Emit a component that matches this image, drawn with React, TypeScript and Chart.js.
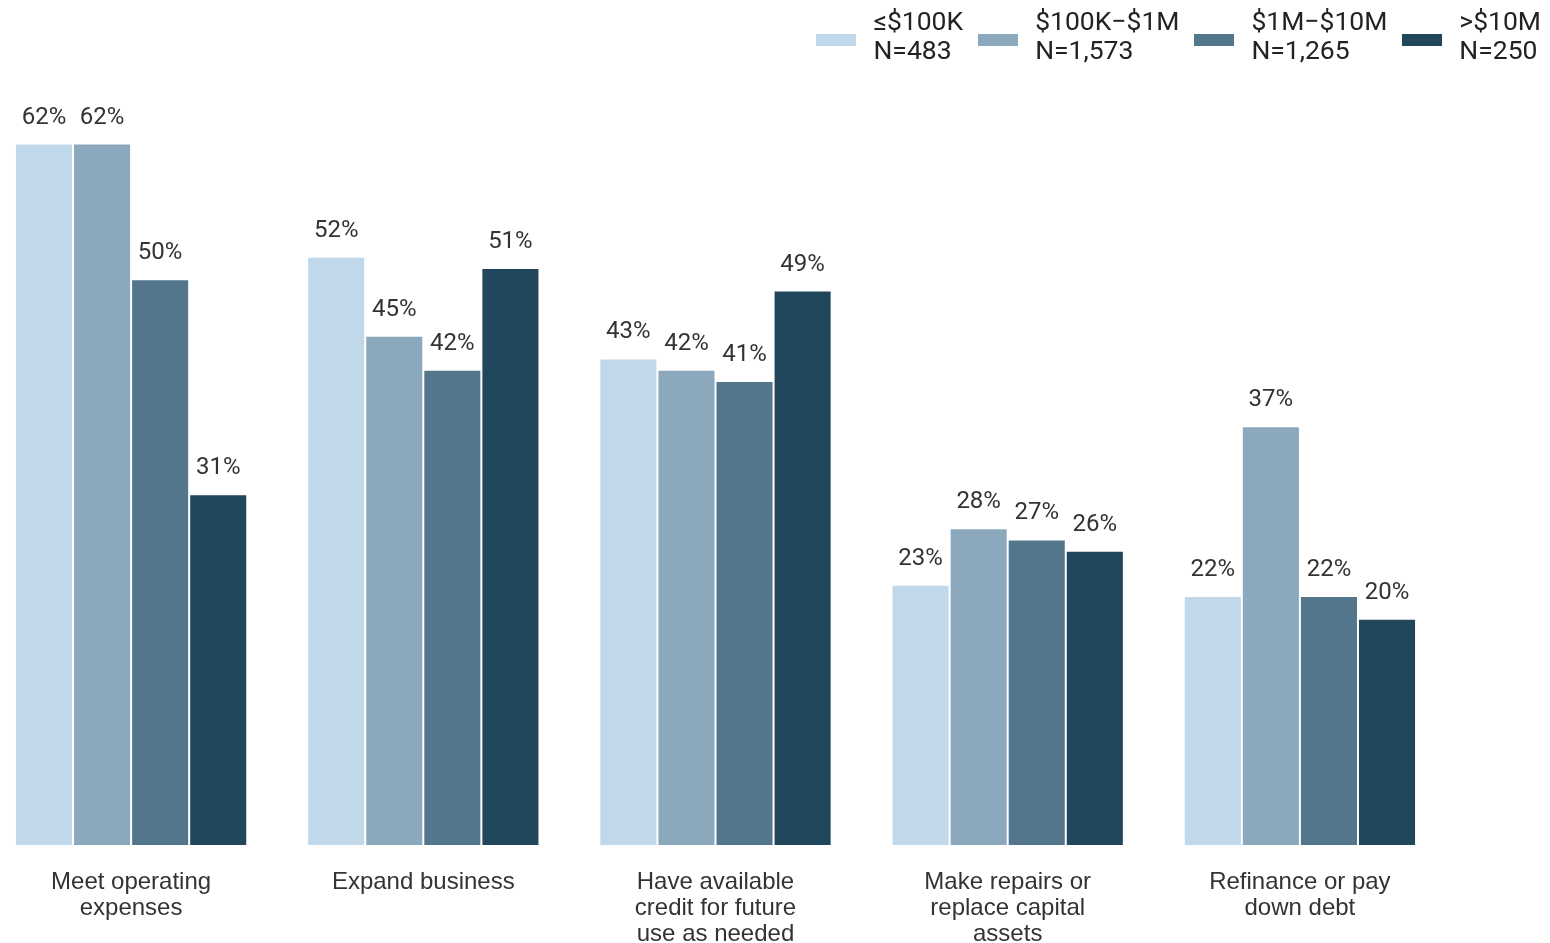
import React, { useEffect, useRef } from "react";
import { Chart, registerables } from "chart.js";

Chart.register(...registerables);

const categories: string[][] = [
  ["Meet operating", "expenses"],
  ["Expand business"],
  ["Have available", "credit for future", "use as needed"],
  ["Make repairs or", "replace capital", "assets"],
  ["Refinance or pay", "down debt"],
];

const seriesNames: string[] = ["≤$100K", "$100K−$1M", "$1M−$10M", ">$10M"];
const seriesN: string[] = ["N=483", "N=1,573", "N=1,265", "N=250"];
const seriesColors: string[] = ["#c1d7ea", "#8ca8bd", "#53768c", "#20475c"];

const small: number[] = [62, 52, 43, 23, 22];
const midSmall: number[] = [62, 45, 42, 28, 37];
const midLarge: number[] = [50, 42, 41, 27, 22];
const large: number[] = [31, 51, 49, 26, 20];

const seriesValues: number[][] = [small, midSmall, midLarge, large];

const valueLabelPlugin = {
  id: "valueLabels",
  afterDatasetsDraw(chart: any) {
    const ctx = chart.ctx;
    ctx.save();
    ctx.font = "24px Roboto";
    ctx.fillStyle = "#333333";
    ctx.textAlign = "center";
    ctx.textBaseline = "alphabetic";
    chart.data.datasets.forEach((ds: any, di: number) => {
      const meta = chart.getDatasetMeta(di);
      meta.data.forEach((bar: any, i: number) => {
        ctx.fillText(ds.data[i] + "%", bar.x, bar.y - 20);
      });
    });
    ctx.restore();
  },
};

export default function App() {
  const canvasRef = useRef<HTMLCanvasElement | null>(null);

  useEffect(() => {
    if (!canvasRef.current) return;
    const chart = new Chart(canvasRef.current, {
      type: "bar",
      data: {
        labels: categories,
        datasets: seriesValues.map((vals, i) => ({
          label: seriesNames[i],
          data: vals,
          backgroundColor: seriesColors[i],
          borderColor: "#ffffff",
          borderWidth: 1,
          barPercentage: 1,
          categoryPercentage: 0.795,
        })),
      },
      options: {
        animation: false,
        responsive: true,
        maintainAspectRatio: false,
        layout: { padding: { top: 53, left: 0, right: 104, bottom: 0 } },
        plugins: {
          legend: { display: false },
          tooltip: { enabled: false },
        },
        scales: {
          x: {
            grid: { display: false, drawTicks: false },
            border: { display: false },
            ticks: {
              padding: 25,
              color: "#333333",
              font: { family: "'Liberation Sans', Arial, sans-serif", size: 24, lineHeight: 1.07 },
              maxRotation: 0,
              autoSkip: false,
            },
          },
          y: {
            display: false,
            min: 0,
            max: 70,
          },
        },
      },
      plugins: [valueLabelPlugin],
    });
    return () => chart.destroy();
  }, []);

  return (
    <div>
      <div
        style={{
          position: "fixed",
          left: -15,
          top: 0,
          width: 1565,
          height: 972,
        }}
      >
        <canvas ref={canvasRef} />
      </div>
      <div
        style={{
          position: "fixed",
          right: 9,
          top: 6,
          display: "flex",
          gap: 15,
          fontFamily: "Roboto, sans-serif",
          fontSize: 26.5,
          lineHeight: "29px",
          color: "#222222",
        }}
      >
        {seriesNames.map((name, i) => (
          <div key={name} style={{ display: "flex", alignItems: "flex-start" }}>
            <div
              style={{
                width: 40,
                height: 12,
                marginTop: 28,
                marginRight: 17,
                background: seriesColors[i],
              }}
            />
            <div>
              <div>{name}</div>
              <div>{seriesN[i]}</div>
            </div>
          </div>
        ))}
      </div>
    </div>
  );
}
